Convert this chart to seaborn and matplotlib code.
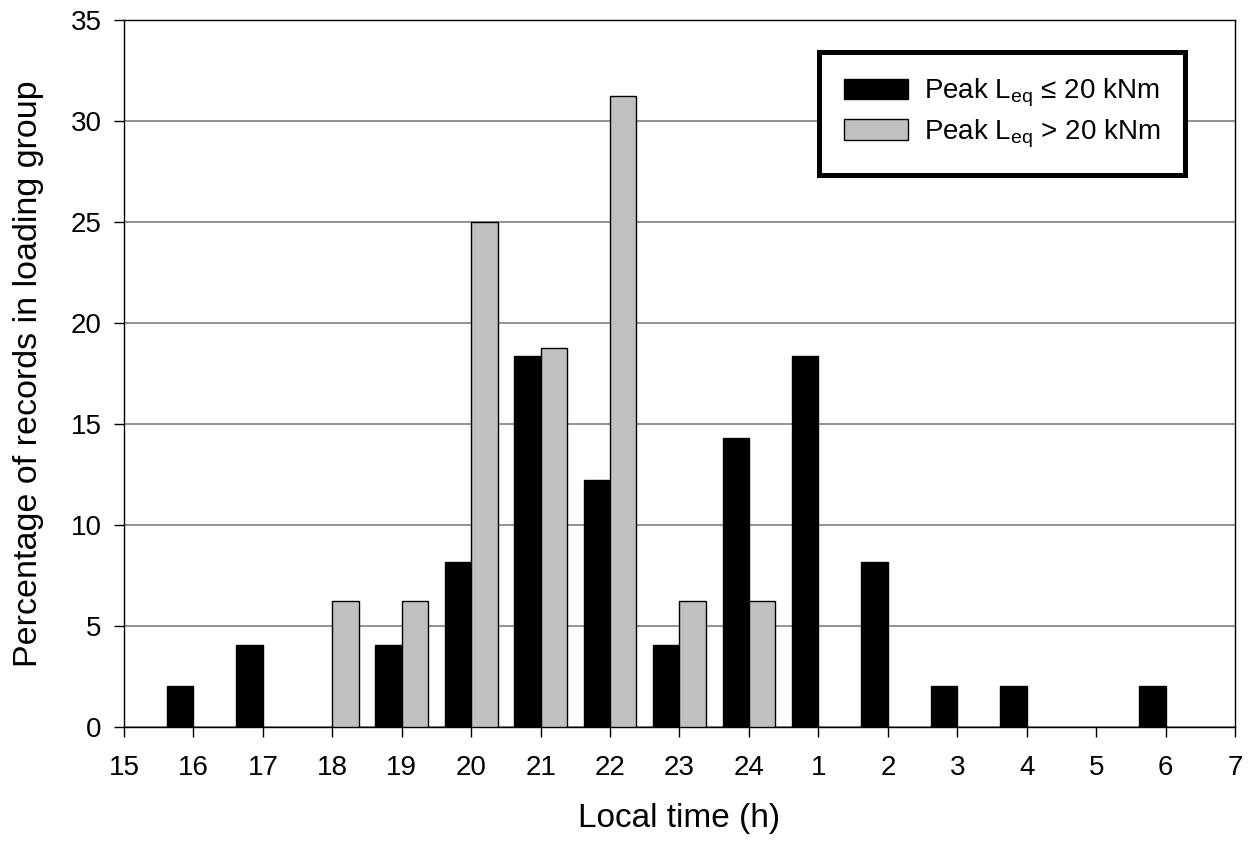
import matplotlib
matplotlib.use("Agg")
import matplotlib.pyplot as plt
import seaborn as sns
import pandas as pd

# Local clock hour of each bin, running from 15 h through midnight to 7 h
hour_labels = ["15", "16", "17", "18", "19", "20", "21", "22", "23", "24",
               "1", "2", "3", "4", "5", "6", "7"]

# Percentage of records per hour in each loading group
pct_low = [0, 2.04, 4.08, 0, 4.08, 8.16, 18.37, 12.24, 4.08, 14.29,
           18.37, 8.16, 2.04, 2.04, 0, 2.04, 0]
pct_high = [0, 0, 0, 6.25, 6.25, 25.0, 18.75, 31.25, 6.25, 6.25,
            0, 0, 0, 0, 0, 0, 0]

label_low = r"Peak L$_{\mathrm{eq}}$ ≤ 20 kNm"
label_high = r"Peak L$_{\mathrm{eq}}$ > 20 kNm"

rows = []
for i, v in enumerate(pct_low):
    if v > 0:
        rows.append({"pos": i, "group": label_low, "pct": v})
for i, v in enumerate(pct_high):
    if v > 0:
        rows.append({"pos": i, "group": label_high, "pct": v})
df = pd.DataFrame(rows)

sns.set_theme(style="white")
plt.rcParams["font.family"] = ["Liberation Sans", "DejaVu Sans"]
plt.rcParams["mathtext.fontset"] = "custom"
plt.rcParams["mathtext.rm"] = "Liberation Sans"
plt.rcParams["mathtext.it"] = "Liberation Sans:italic"
for key in ["text.color", "axes.labelcolor", "xtick.color", "ytick.color"]:
    plt.rcParams[key] = "black"

fig = plt.figure(figsize=(12.56, 8.44), dpi=100)
ax = fig.add_axes([0.0987, 0.1386, 0.8846, 0.8377])

sns.barplot(data=df, x="pos", y="pct", hue="group",
            hue_order=[label_low, label_high],
            palette=["#000000", "#C0C0C0"], native_scale=True,
            width=0.76, dodge=True, edgecolor="black", linewidth=1.0,
            errorbar=None, ax=ax, zorder=3)

ax.set_xlim(0, 16)
ax.set_ylim(0, 35)
ax.set_xticks(range(len(hour_labels)))
ax.set_xticklabels(hour_labels)
ax.set_yticks(range(0, 36, 5))

ax.set_axisbelow(True)
ax.yaxis.grid(True, color="#808080", linewidth=1.2, zorder=0)
ax.xaxis.grid(False)

for side in ["left", "bottom", "top", "right"]:
    ax.spines[side].set_visible(True)
    ax.spines[side].set_color("black")
    ax.spines[side].set_linewidth(1.0)

ax.tick_params(axis="both", which="major", direction="out", length=7,
               width=1.0, color="black", labelsize=20,
               bottom=True, left=True)
ax.tick_params(axis="x", pad=13)
ax.tick_params(axis="y", pad=9)

ax.set_xlabel("Local time (h)", fontsize=24, labelpad=16)
ax.set_ylabel("Percentage of records in loading group", fontsize=24.5, labelpad=19)

handles, labels = ax.get_legend_handles_labels()
leg = ax.legend(handles, labels, loc="upper right",
                bbox_to_anchor=(0.955, 0.955), fontsize=20,
                frameon=True, fancybox=False, edgecolor="black",
                framealpha=1.0, handlelength=2.3, handleheight=0.75,
                labelspacing=0.3, borderpad=0.9, handletextpad=0.55,
                borderaxespad=0)
leg.get_frame().set_linewidth(3.6)

fig.savefig("out.png", dpi=100)
